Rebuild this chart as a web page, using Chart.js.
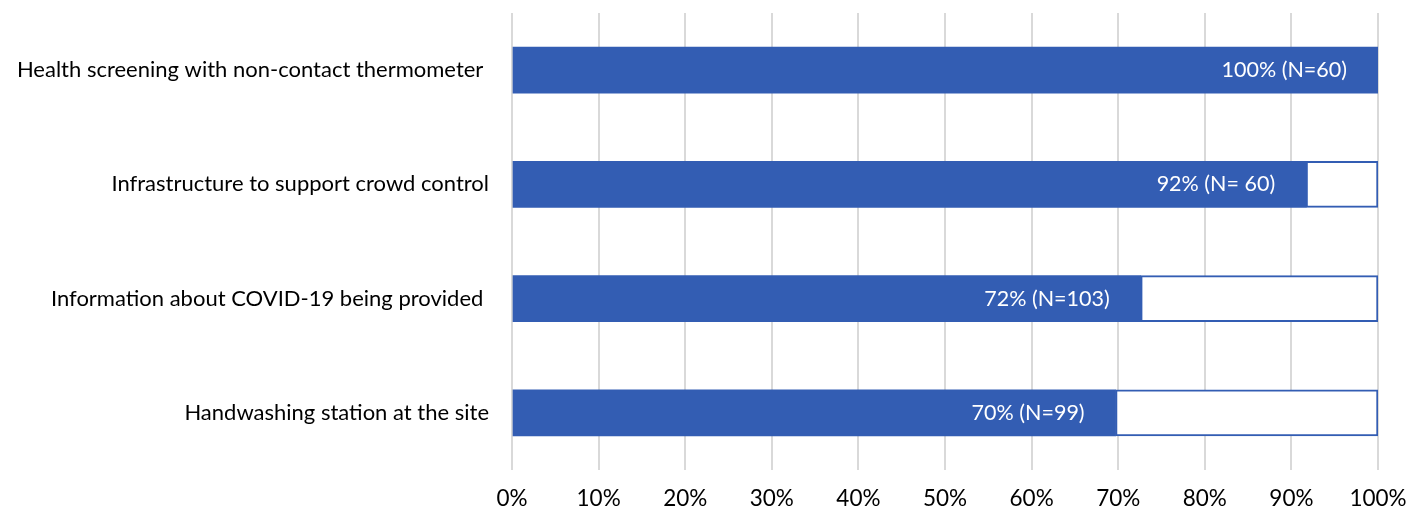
<!DOCTYPE html>
<html>
<head>
<meta charset="utf-8">
<script src="https://cdn.jsdelivr.net/npm/chart.js@4.4.1/dist/chart.umd.min.js"></script>
<style>
html,body{margin:0;padding:0;background:#fff;}
#wrap{width:1422px;height:512px;position:relative;}
</style>
</head>
<body>
<div id="wrap"><canvas id="c" width="1422" height="512"></canvas></div>
<script>
const categories = [
  "Health screening with non-contact thermometer ",
  "Infrastructure to support crowd control",
  "Information about COVID-19 being provided ",
  "Handwashing station at the site"
];
const values = [100, 91.7, 72.6, 69.7];
const remainder = [0, 8.3, 27.4, 30.3];
const valueLabels = ["100% (N=60)", "92% (N= 60)", "72% (N=103)", "70% (N=99)"];
const tickLabels = ["0%","10%","20%","30%","40%","50%","60%","70%","80%","90%","100%"];

const BLUE = '#335DB3';
const FONT = 'Lato';

const labelPlugin = {
  id: 'valueLabels',
  afterDatasetsDraw(chart) {
    const ctx = chart.ctx;
    const meta = chart.getDatasetMeta(0);
    ctx.save();
    ctx.font = '21.5px ' + FONT;
    ctx.fillStyle = '#ffffff';
    ctx.textAlign = 'right';
    ctx.textBaseline = 'middle';
    meta.data.forEach((el, i) => {
      ctx.fillText(valueLabels[i], el.x - 31, el.y);
    });
    ctx.restore();
  }
};

new Chart(document.getElementById('c'), {
  type: 'bar',
  data: {
    labels: categories,
    datasets: [
      {
        data: values,
        backgroundColor: BLUE,
        borderWidth: 0,
        barThickness: 46
      },
      {
        data: remainder,
        backgroundColor: '#ffffff',
        borderColor: BLUE,
        borderWidth: 2,
        borderSkipped: false,
        barThickness: 46
      }
    ]
  },
  options: {
    indexAxis: 'y',
    responsive: false,
    animation: false,
    layout: { padding: { top: 13, right: 44, left: 0, bottom: 0 } },
    plugins: { legend: { display: false }, tooltip: { enabled: false } },
    scales: {
      x: {
        stacked: true,
        min: 0, max: 100,
        grid: { color: '#d9d9d9', lineWidth: 2, drawTicks: false },
        border: { display: false },
        ticks: {
          stepSize: 10,
          padding: 15,
          color: '#000',
          font: { family: FONT, size: 22.5 },
          callback: (v, i) => tickLabels[i]
        },
        afterFit(scale) { scale.height = 42; scale.paddingLeft = 0; scale.paddingRight = 0; }
      },
      y: {
        stacked: true,
        grid: { display: false },
        border: { display: false },
        ticks: {
          color: '#000',
          padding: 15,
          font: { family: FONT, size: 22 }
        },
        afterFit(scale) { scale.width = 512; scale.paddingTop = 0; scale.paddingBottom = 0; }
      }
    }
  },
  plugins: [labelPlugin]
});
</script>
</body>
</html>
